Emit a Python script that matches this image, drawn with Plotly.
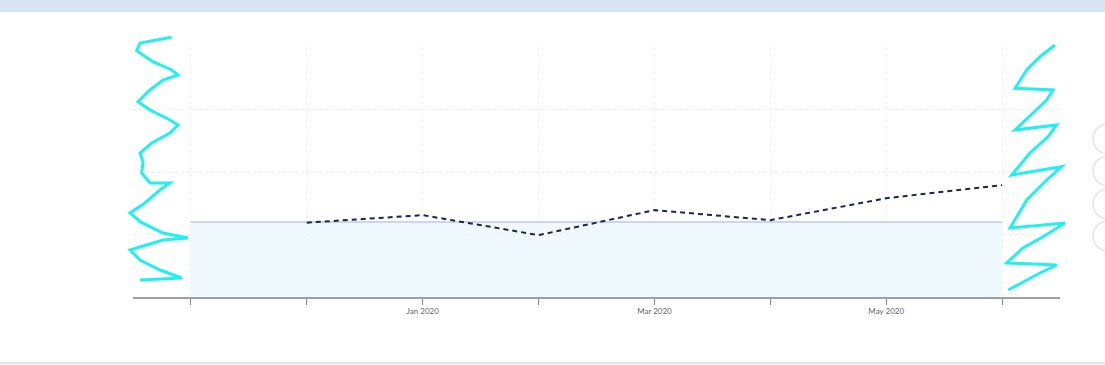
import plotly.graph_objects as go

# ---- data ----
months = ["Nov 2019", "Dec 2019", "Jan 2020", "Feb 2020", "Mar 2020", "Apr 2020", "May 2020", "Jun 2020"]
tick_labels = ["", "", "Jan 2020", "", "Mar 2020", "", "May 2020", ""]
series_months = ["Dec 2019", "Jan 2020", "Feb 2020", "Mar 2020", "Apr 2020", "May 2020", "Jun 2020"]
series_values = [1.19, 1.31, 0.99, 1.39, 1.23, 1.58, 1.79]
baseline_values = [1.2] * len(months)

# ---- layout geometry (pixels) ----
W, H = 1105, 365
L, R, T, B = 133, 45, 47, 68
PW, PH = W - L - R, H - T - B


def px(x):
    return (x - L) / PW


def py(y):
    return (H - B - y) / PH


# redaction scribbles (decoration, pixel coords)
scribble_left = [(171.7, 37.3), (140, 43), (136.7, 50.7), (153, 61.7), (171.7, 70), (178, 75), (163, 80),
                 (150, 90), (138, 101.7), (150, 110), (170, 120), (178, 125), (170, 133), (151.7, 143),
                 (140, 153), (143, 161.7), (141.7, 173), (150, 183), (170, 183), (160, 190), (145, 203),
                 (130, 213), (140, 221.7), (163, 233), (188, 238), (163, 240), (130, 250), (140, 260),
                 (160, 270), (181.7, 278), (140, 280)]
scribble_right = [(1055, 45), (1040, 56.7), (1026.7, 70), (1015, 88.3), (1053, 90), (1046.7, 100),
                  (1033, 113), (1015, 130), (1056.7, 125), (1048, 136.7), (1030, 153), (1011.7, 175),
                  (1061.7, 166.7), (1046.7, 180), (1026.7, 200), (1010, 228), (1065, 223), (1043, 236.7),
                  (1023, 248), (1006.7, 263), (1056.7, 265), (1040, 273), (1008.3, 290)]
button_centers_y = [139, 171, 204, 236]


def path_of(pts):
    return "M " + " L ".join(f"{px(x):.4f},{py(y):.4f}" for x, y in pts)


fig = go.Figure()
fig.add_trace(go.Scatter(
    x=months, y=baseline_values, mode="lines",
    line=dict(color="#c6c6ea", width=1.5),
    fill="tozeroy", fillcolor="rgba(236,247,253,0.8)",
    hoverinfo="skip", showlegend=False,
))
fig.add_trace(go.Scatter(
    x=series_months, y=series_values, mode="lines",
    line=dict(color="#1b2550", width=2, dash="5px,4px"),
    showlegend=False,
))

shapes = []
# top band
shapes.append(dict(type="rect", xref="paper", yref="paper", x0=px(0), x1=px(W), y0=py(12), y1=py(0),
                   fillcolor="#d5e3f3", line=dict(width=0), layer="below"))
# bottom separator
shapes.append(dict(type="line", xref="paper", yref="paper", x0=px(0), x1=px(W), y0=py(363), y1=py(363),
                   line=dict(color="#dbe7f1", width=2)))
# scribbles
for pts in (scribble_left, scribble_right):
    shapes.append(dict(type="path", xref="paper", yref="paper", path=path_of(pts),
                       line=dict(color="#22f0f0", width=3)))
# side buttons
for cy in button_centers_y:
    shapes.append(dict(type="circle", xref="paper", yref="paper",
                       x0=px(1093), x1=px(1123), y0=py(cy + 15), y1=py(cy - 15),
                       fillcolor="#ffffff", line=dict(color="#e3e6ea", width=1.5)))

fig.update_layout(
    width=W, height=H,
    margin=dict(l=L, r=R, t=T, b=B),
    paper_bgcolor="#ffffff", plot_bgcolor="#ffffff",
    font=dict(family="Lato, Open Sans, sans-serif", size=8, color="#666666"),
    shapes=shapes,
    xaxis=dict(
        type="category", categoryorder="array", categoryarray=months,
        range=[-0.5, 7.5],
        tickmode="array", tickvals=months, ticktext=tick_labels,
        ticks="outside", ticklen=6, tickcolor="#888888", tickwidth=1,
        showline=True, linecolor="#a0a0a0", linewidth=1.5,
        showgrid=True, gridcolor="#f1f1f1", griddash="dot",
        tickfont=dict(size=8, color="#666666"),
        fixedrange=True,
    ),
    yaxis=dict(
        range=[0, 4], dtick=1, showticklabels=False,
        showgrid=True, gridcolor="#ececec", griddash="dot",
        zeroline=False, showline=False, fixedrange=True,
    ),
)

fig.write_html("out.html", config={"displayModeBar": False},
               post_script="document.body.style.margin='0';document.body.style.overflow='hidden';")
